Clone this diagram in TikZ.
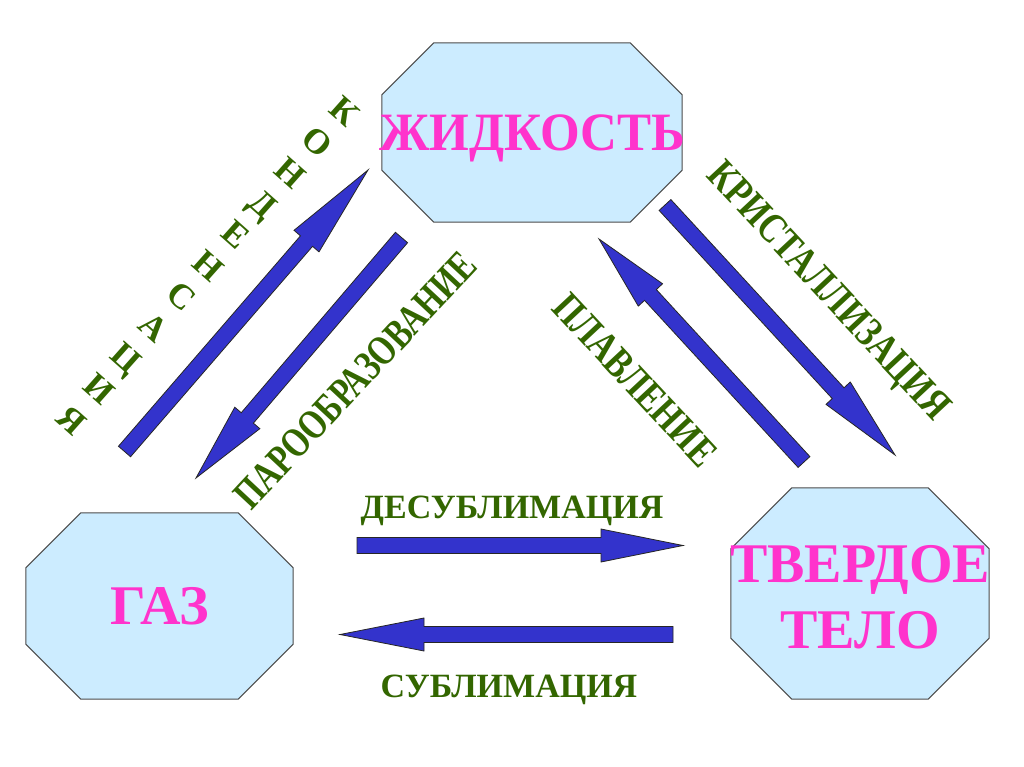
\documentclass[tikz,border=0pt]{standalone}
\usepackage{fontspec}
\setmainfont{Liberation Serif}
\newfontfamily\narrowserif[FakeStretch=0.8]{Liberation Serif}
\usetikzlibrary{calc}
\definecolor{liqblue}{HTML}{CCECFF}
\definecolor{phasepink}{HTML}{FF33CC}
\definecolor{procgreen}{HTML}{336600}
\definecolor{arrowblue}{HTML}{3333CC}
% octagon round an empty node: name, corner cut
\newcommand{\octagon}[2]{%
	\filldraw[octo] ([xshift=#2]#1.north west) -- ([xshift=-#2]#1.north east) -- ([yshift=-#2]#1.north east)
		-- ([yshift=#2]#1.south east) -- ([xshift=-#2]#1.south east) -- ([xshift=#2]#1.south west)
		-- ([yshift=#2]#1.south west) -- ([yshift=-#2]#1.north west) -- cycle;}
% block arrow: [head length] tail, tip
\newcommand{\blockarrow}[3][82pt]{%
	\path ($(#3)!#1!(#2)$) coordinate (hb);
	\filldraw[arrowbody] ($(#2)!8pt!90:(#3)$) -- ($(hb)!8pt!90:(#3)$) -- ($(hb)!16.5pt!90:(#3)$) -- (#3)
		-- ($(hb)!16.5pt!-90:(#3)$) -- ($(hb)!8pt!-90:(#3)$) -- ($(#2)!8pt!-90:(#3)$) -- cycle;}
\begin{document}
\begin{tikzpicture}[x=1pt,y=-1pt,
	octo/.style={fill=liqblue,draw=black!70,line width=1pt},
	box/.style={inner sep=0pt,minimum width=#1},
	phase/.style={text=phasepink,font=\fontsize{56}{66}\selectfont\bfseries,inner sep=0pt,text height=37pt,text depth=0pt,align=center},
	proc/.style={text=procgreen,font=\fontsize{34}{40}\selectfont\bfseries,inner sep=0pt,text height=22.5pt,text depth=0pt},
	slantproc/.style={proc,font=\narrowserif\fontsize{42}{48}\selectfont\bfseries,text height=27.8pt},
	condch/.style={proc,font=\fontsize{35}{40}\selectfont\bfseries,text height=23pt,rotate=-41.6},
	arrowbody/.style={fill=arrowblue,draw=black!85,line width=0.8pt}]
	\fill[white] (0,0) rectangle (1024,767);
	\useasboundingbox (0,0) rectangle (1024,767);

	\node[box=300pt,minimum height=179pt] (liq) at (532,132.5) {};
	\node[box=267pt,minimum height=186pt] (gas) at (159.5,606) {};
	\node[box=258pt,minimum height=211pt] (sol) at (860,593.5) {};
	\octagon{liq}{52pt}
	\octagon{gas}{55pt}
	\octagon{sol}{61pt}
	\node[phase,font=\fontsize{54}{66}\selectfont\bfseries,text height=36pt,xscale=0.945] (liqname) at (liq) {ЖИДКОСТЬ};
	\node[phase] (gasname) at (gas) {ГАЗ};
	\node[phase,anchor=base] (solname) at ($(sol)+(0,54.5)$) {ТВЕРДОЕ\\ТЕЛО};

	\coordinate (condS) at (124.5,451.5);
	\coordinate (condE) at (368,170);
	\coordinate (vapS) at (401.5,237.5);
	\coordinate (vapE) at (196,478);
	\coordinate (meltS) at (804,462);
	\coordinate (meltE) at (599,239);
	\coordinate (crysS) at (665,205);
	\coordinate (crysE) at (895,455);
	\coordinate (desubS) at (357,545.5);
	\coordinate (desubE) at (683,545.5);
	\coordinate (subS) at (673,634.5);
	\coordinate (subE) at (340,634.5);
	\blockarrow[94pt]{condS}{condE}
	\blockarrow[79pt]{vapS}{vapE}
	\blockarrow[76pt]{meltS}{meltE}
	\blockarrow[84pt]{crysS}{crysE}
	\blockarrow{desubS}{desubE}
	\blockarrow[84pt]{subS}{subE}

	\foreach \ch [count=\i from 0] in {К,О,Н,Д,Е,Н,С,А,Ц,И,Я}
		\node[condch] (cond\i) at ({345-27.3*\i},{111+30.9*\i}) {\ch};
	\node[slantproc,rotate=47,xscale=0.96] (vaplabel) at (355,380) {ПАРООБРАЗОВАНИЕ};
	\node[slantproc,rotate=-47] (meltlabel) at (635,380) {ПЛАВЛЕНИЕ};
	\node[slantproc,rotate=-47] (cryslabel) at (830,290) {КРИСТАЛЛИЗАЦИЯ};
	\node[proc] (desublabel) at (512,507) {ДЕСУБЛИМАЦИЯ};
	\node[proc] (sublabel) at (509,686) {СУБЛИМАЦИЯ};
\end{tikzpicture}
\end{document}
